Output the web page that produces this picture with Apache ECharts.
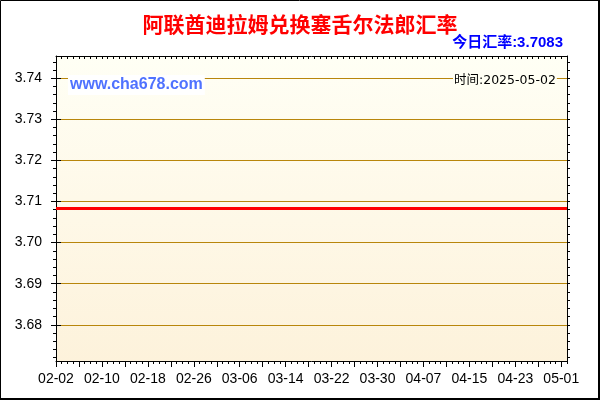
<!DOCTYPE html>
<html><head><meta charset="utf-8">
<script src="https://cdn.jsdelivr.net/npm/echarts@6/dist/echarts.min.js"></script>
<style>html,body{margin:0;padding:0;background:#fff}#c{width:600px;height:400px}</style>
</head><body><div id="c"></div>
<script>
const titleText = '阿联酋迪拉姆兑换塞舌尔法郎汇率';
const todayText = '今日汇率:3.7083';
const timeText = '时间:2025-05-02';
const siteText = 'www.cha678.com';
// x categories: every day from 02-02 to 05-02
const monthDays = [['02', 2, 28], ['03', 1, 31], ['04', 1, 30], ['05', 1, 2]];
const dates = [];
monthDays.forEach(([m, a, b]) => { for (let d = a; d <= b; d++) dates.push(m + '-' + String(d).padStart(2, '0')); });
// series (flat rate over the period)
const rateDates = ['02-02', '05-02'];
const rateValues = [3.7083, 3.7083];
// y axis
const yMin = 3.6712, yMax = 3.7454;
const yTicks = [3.68, 3.69, 3.70, 3.71, 3.72, 3.73, 3.74];
const yMinorTicks = [];
for (let k = 1836; k <= 1872; k++) yMinorTicks.push(+(k * 0.002).toFixed(3));

const black = '#000';
const gridRect = { left: 56, right: 33, top: 56, bottom: 39 };
const font = '"Liberation Sans", Arial, sans-serif';

const chart = echarts.init(document.getElementById('c'), null, { renderer: 'canvas' });
const catBase = { type: 'category', data: dates, boundaryGap: false, splitLine: { show: false } };
const valBase = { type: 'value', min: yMin, max: yMax, scale: true, splitLine: { show: false }, minorTick: { show: false } };

chart.setOption({
  animation: false,
  grid: [
    Object.assign({ show: true, borderWidth: 0,
      backgroundColor: new echarts.graphic.LinearGradient(0, 0, 0, 1, [
        { offset: 0, color: '#FFFFF5' }, { offset: 1, color: '#FDF2DB' }]) }, gridRect),
    Object.assign({ show: false }, gridRect),
    Object.assign({ show: false }, gridRect)
  ],
  xAxis: [
    Object.assign({}, catBase, { gridIndex: 0, position: 'bottom',
      axisLine: { show: true, lineStyle: { color: black, width: 1 } },
      axisTick: { show: true, inside: false, length: 6, interval: (i) => i % 4 === 0, lineStyle: { color: black } },
      axisLabel: { show: true, interval: (i) => i % 8 === 0, margin: 11, color: black, fontSize: 14, fontFamily: font } }),
    Object.assign({}, catBase, { gridIndex: 0, position: 'top',
      axisLine: { show: true, lineStyle: { color: black, width: 1 } },
      axisTick: { show: true, inside: true, length: 3, interval: 0, lineStyle: { color: black } },
      axisLabel: { show: false } }),
    Object.assign({}, catBase, { gridIndex: 1, position: 'bottom',
      axisLine: { show: false },
      axisTick: { show: true, inside: false, length: 3, interval: 0, lineStyle: { color: black } },
      axisLabel: { show: false } }),
    Object.assign({}, catBase, { gridIndex: 1, position: 'top', show: false }),
    Object.assign({}, catBase, { gridIndex: 2, position: 'bottom', show: false })
  ],
  yAxis: [
    Object.assign({}, valBase, { gridIndex: 0, position: 'left',
      axisLine: { show: true, lineStyle: { color: black, width: 1 } },
      axisTick: { show: true, inside: false, length: 5, customValues: yTicks, lineStyle: { color: black } },
      axisLabel: { show: true, customValues: yTicks, margin: 14, color: black, fontSize: 14, fontFamily: font,
        formatter: (v) => v.toFixed(2) },
      splitLine: { show: true, lineStyle: { color: '#B8860B', width: 1 } } }),
    Object.assign({}, valBase, { gridIndex: 0, position: 'right',
      axisLine: { show: true, lineStyle: { color: black, width: 1 } },
      axisTick: { show: true, inside: false, length: 3, customValues: yTicks, lineStyle: { color: black } },
      axisLabel: { show: false } }),
    Object.assign({}, valBase, { gridIndex: 1, position: 'left',
      axisLine: { show: false },
      axisTick: { show: true, inside: false, length: 3, customValues: yMinorTicks, lineStyle: { color: black } },
      axisLabel: { show: false } }),
    Object.assign({}, valBase, { gridIndex: 1, position: 'right',
      axisLine: { show: false },
      axisTick: { show: true, inside: false, length: 3, customValues: yMinorTicks, lineStyle: { color: black } },
      axisLabel: { show: false } }),
    Object.assign({}, valBase, { gridIndex: 2, position: 'left',
      axisLine: { show: false },
      axisTick: { show: true, inside: true, length: 5, customValues: yTicks, lineStyle: { color: black } },
      axisLabel: { show: false } })
  ],
  series: [{
    type: 'line', xAxisIndex: 0, yAxisIndex: 0,
    data: rateDates.map((d, i) => [d, rateValues[i]]),
    symbol: 'none', lineStyle: { color: '#FF0000', width: 3 }, z: 5
  }],
  graphic: [
    { type: 'text', z: 100, style: { text: titleText, x: 300, y: 24, align: 'center', verticalAlign: 'middle',
      textAlign: 'center', textVerticalAlign: 'middle', fill: '#FF0000',
      font: 'bold 21px "Noto Sans CJK SC", sans-serif' } },
    { type: 'text', z: 100, style: { text: todayText, x: 563, y: 43, align: 'right', verticalAlign: 'middle',
      textAlign: 'right', textVerticalAlign: 'middle', fill: '#0000FF',
      font: 'bold 15px "Liberation Sans", "Noto Sans CJK SC", sans-serif' } },
    { type: 'text', z: 100, style: { text: siteText, x: 68, y: 85, align: 'left', verticalAlign: 'middle',
      textAlign: 'left', textVerticalAlign: 'middle', fill: '#4F72FF', backgroundColor: '#FFFFFF', padding: [2, 2],
      font: 'bold 16px "Liberation Sans", sans-serif' } },
    { type: 'text', z: 100, style: { text: timeText, x: 453, y: 81, align: 'left', verticalAlign: 'middle',
      textAlign: 'left', textVerticalAlign: 'middle', fill: '#000000', backgroundColor: '#FFFFF3', padding: [1, 1],
      font: '12.5px "DejaVu Sans", "Noto Sans CJK SC", sans-serif' } },
    { type: 'rect', z: 100, silent: true, shape: { x: 0.5, y: 0.5, width: 598, height: 398 },
      style: { fill: 'none', stroke: '#000', lineWidth: 1 } },
    { type: 'rect', z: 100, silent: true, shape: { x: 598, y: 0, width: 2, height: 400 },
      style: { fill: '#000' } },
    { type: 'rect', z: 100, silent: true, shape: { x: 0, y: 398, width: 600, height: 2 },
      style: { fill: '#000' } }
  ]
});
</script></body></html>
